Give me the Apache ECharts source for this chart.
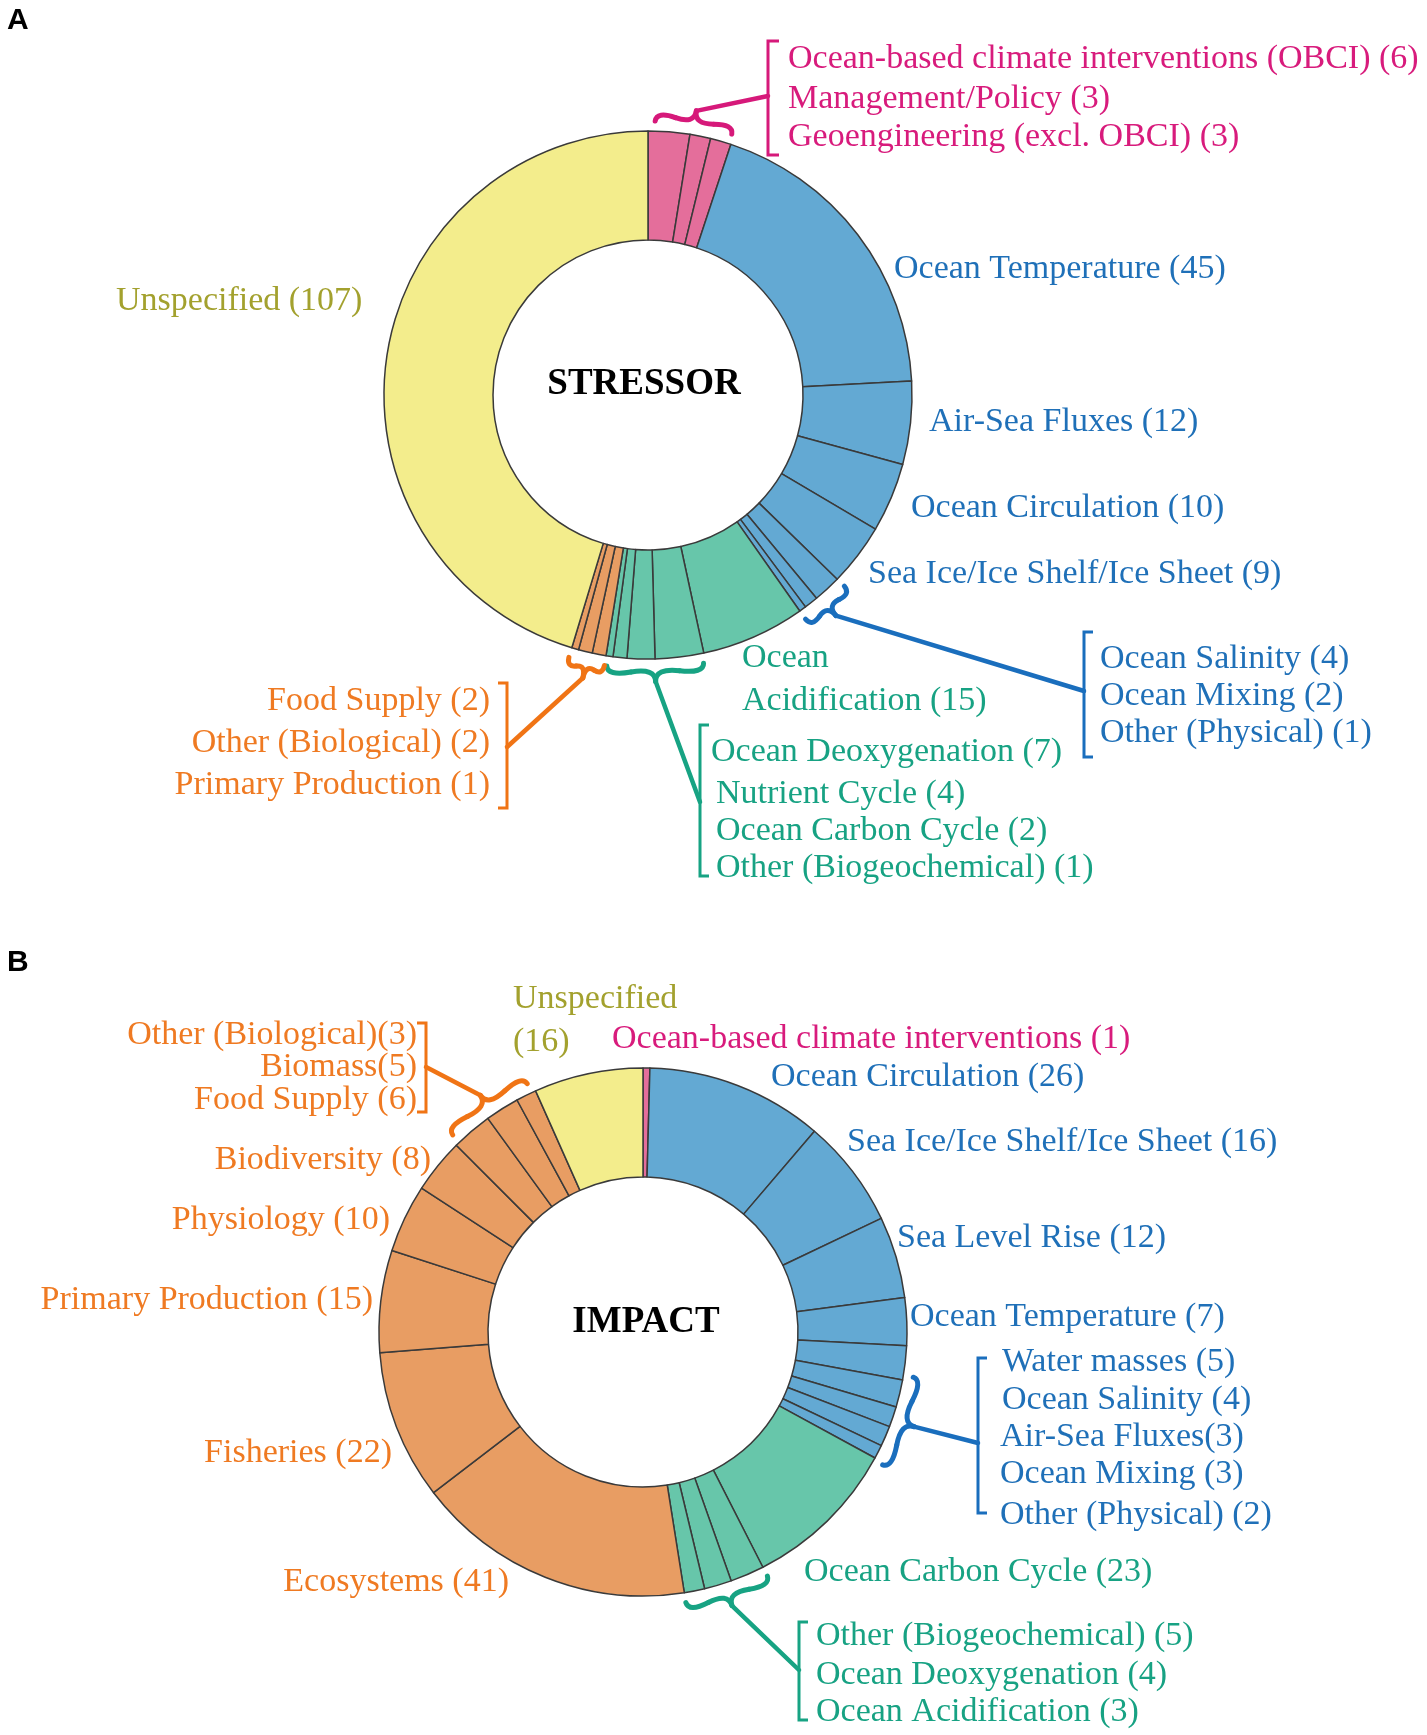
<!DOCTYPE html>
<html><head><meta charset="utf-8">
<script src="https://cdn.jsdelivr.net/npm/echarts/dist/echarts.min.js"></script>
<style>html,body{margin:0;padding:0;background:#fff}#chart{width:1427px;height:1735px}</style>
</head><body><div id="chart"></div>
<script>
// ---------- DATA ----------
const stressorNames = ['Ocean-based climate interventions (OBCI)','Management/Policy','Geoengineering (excl. OBCI)',
  'Ocean Temperature','Air-Sea Fluxes','Ocean Circulation','Sea Ice/Ice Shelf/Ice Sheet','Ocean Salinity','Ocean Mixing','Other (Physical)',
  'Ocean Acidification','Ocean Deoxygenation','Nutrient Cycle','Ocean Carbon Cycle','Other (Biogeochemical)',
  'Food Supply','Other (Biological)','Primary Production','Unspecified'];
const stressorValues = [6,3,3,45,12,10,9,4,2,1,15,7,4,2,1,2,2,1,107];
const stressorGroups = ['obci','obci','obci','phys','phys','phys','phys','phys','phys','phys','bgc','bgc','bgc','bgc','bgc','bio','bio','bio','unsp'];

const impactNames = ['Ocean-based climate interventions','Ocean Circulation','Sea Ice/Ice Shelf/Ice Sheet','Sea Level Rise','Ocean Temperature',
  'Water masses','Ocean Salinity','Air-Sea Fluxes','Ocean Mixing','Other (Physical)',
  'Ocean Carbon Cycle','Other (Biogeochemical)','Ocean Deoxygenation','Ocean Acidification',
  'Ecosystems','Fisheries','Primary Production','Physiology','Biodiversity','Food Supply','Biomass','Other (Biological)','Unspecified'];
const impactValues = [1,26,16,12,7,5,4,3,3,2,23,5,4,3,41,22,15,10,8,6,5,3,16];
const impactGroups = ['obci','phys','phys','phys','phys','phys','phys','phys','phys','phys','bgc','bgc','bgc','bgc','bio','bio','bio','bio','bio','bio','bio','bio','unsp'];

const centerTitles = ['STRESSOR','IMPACT'];
const panelLetters = ['A','B'];

// ---------- STYLE / LAYOUT ----------
const sliceColor = {obci:'#E46E9B', phys:'#63A9D3', bgc:'#67C6AA', bio:'#E89D63', unsp:'#F3ED8C'};
const textColor  = {obci:'#D81B7C', phys:'#1F70B8', bgc:'#17A283', bio:'#EF7A22', unsp:'#A3A12E'};
const braceColor = {obci:'#D6197A', phys:'#1A6EBD', bgc:'#17A383', bio:'#F07415'};
const FONT = '34px "Liberation Serif", "Times New Roman", serif';
const R_IN = 155, R_OUT = 264;
const CA = [648, 395], CB = [643, 1332];
const DY = 2;

// label anchor positions (x, y, align)
const layoutA = [
  [788,57,'left'],[788,97,'left'],[788,135,'left'],
  [894,267,'left'],[929,420,'left'],[911,506,'left'],[868,572,'left'],[1100,657,'left'],[1100,694,'left'],[1100,731,'left'],
  [742,678,'left','wrap'],[711,750,'left'],[716,792,'left'],[716,829,'left'],[716,866,'left'],
  [490,699,'right'],[490,741,'right'],[490,783,'right'],
  [116,299,'left']
];
const layoutB = [
  [612,1037,'left'],[771,1075,'left'],[847,1140,'left'],[897,1236,'left'],[910,1315,'left'],
  [1002,1360,'left'],[1002,1398,'left'],[1000,1435,'left','tight'],[1000,1472,'left'],[1000,1513,'left'],
  [804,1570,'left'],[816,1634,'left'],[816,1673,'left'],[816,1710,'left'],
  [509,1580,'right'],[392,1451,'right'],[373,1298,'right'],[390,1218,'right'],[431,1158,'right'],
  [417,1098,'right'],[417,1065,'right','tight'],[417,1033,'right','tight'],
  [513,1019,'left','wrap']
];
const bracesA = [
  {from:0,to:2,pad:[1.5,-0.5],target:[768,96],br:{x:768,y1:41,y2:155,t:11}},
  {from:7,to:9,pad:[0,0],target:[1084,691],br:{x:1084,y1:632,y2:757,t:9}},
  {from:11,to:14,pad:[0.5,-0.5],target:[700,802],br:{x:700,y1:725,y2:876,t:9}},
  {from:15,to:17,pad:[0,0],target:[507,747],br:{x:507,y1:683,y2:808,t:-9}}
];
const bracesB = [
  {from:5,to:9,pad:[6.5,0.5],target:[978,1443],br:{x:978,y1:1358,y2:1513,t:9}},
  {from:11,to:13,pad:[0,0],target:[799,1670],br:{x:799,y1:1622,y2:1720,t:9}},
  {from:19,to:21,pad:[1,-1],target:[426,1067],br:{x:426,y1:1023,y2:1112,t:-9}}
];
const titleOffset = [[-4,-11],[3,-10]];

function labelText(name, value, flag){
  if (flag === 'tight') return name + '(' + value + ')';
  if (flag === 'wrap') {
    const k = name.indexOf(' ');
    if (k < 0) return name + '\n(' + value + ')';
    return name.slice(0,k) + '\n' + name.slice(k+1) + ' (' + value + ')';
  }
  return name + ' (' + value + ')';
}

function pieSeries(names, values, groups, center){
  return {
    type:'pie', center:center, radius:[R_IN, R_OUT], startAngle:90, clockwise:true,
    silent:true, animation:false, label:{show:false}, labelLine:{show:false},
    itemStyle:{borderColor:'#3a3a3a', borderWidth:1.5},
    emphasis:{disabled:true},
    data: names.map((n,i)=>({name:n, value:values[i], itemStyle:{color:sliceColor[groups[i]]}}))
  };
}

function polar(c, r, a){ const t = a*Math.PI/180; return [c[0] + r*Math.sin(t), c[1] - r*Math.cos(t)]; }

function braceSegs(x1,y1,x2,y2,w,q){
  let dx=x1-x2, dy=y1-y2; const len=Math.hypot(dx,dy); dx/=len; dy/=len;
  const qx1=x1+q*w*dy, qy1=y1-q*w*dx;
  const qx2=(x1-.25*len*dx)+(1-q)*w*dy, qy2=(y1-.25*len*dy)-(1-q)*w*dx;
  const tx=(x1-.5*len*dx)+w*dy, ty=(y1-.5*len*dy)-w*dx;
  const qx3=x2+q*w*dy, qy3=y2-q*w*dx;
  const qx4=(x1-.75*len*dx)+(1-q)*w*dy, qy4=(y1-.75*len*dy)-(1-q)*w*dx;
  const c1x=2*qx2-qx1, c1y=2*qy2-qy1, c2x=2*qx4-qx3, c2y=2*qy4-qy3;
  return {segs:[
    [x1,y1,qx1,qy1,qx2,qy2],
    [qx2,qy2,c1x,c1y,tx,ty],
    [x2,y2,qx3,qy3,qx4,qy4],
    [qx4,qy4,c2x,c2y,tx,ty]
  ], tip:[tx,ty]};
}

function buildGraphics(names, values, groups, layout, braces, c, title, tOff, letter, letterY){
  const g = [];
  const total = values.reduce((a,b)=>a+b,0);
  const cum = [0]; values.forEach(v=>cum.push(cum[cum.length-1]+v));
  names.forEach((n,i)=>{
    const L = layout[i];
    g.push({type:'text', x:L[0], y:L[1]+DY, silent:true, z:10,
      style:{text:labelText(n, values[i], L[3]), font:FONT, fill:textColor[groups[i]],
        align:L[2], verticalAlign:'middle', textAlign:L[2], textVerticalAlign:'middle', lineHeight:43}});
  });
  braces.forEach(b=>{
    const col = braceColor[groups[b.from]];
    const a1 = cum[b.from]/total*360 + b.pad[0], a2 = cum[b.to+1]/total*360 + b.pad[1];
    const rr = R_OUT + 10;
    let p1 = polar(c, rr, a1), p2 = polar(c, rr, a2);
    const mx=(p1[0]+p2[0])/2, my=(p1[1]+p2[1])/2;
    const dx=p1[0]-p2[0], dy=p1[1]-p2[1];
    if ((dy*(mx-c[0]) - dx*(my-c[1])) < 0) { const t=p1; p1=p2; p2=t; }
    const bs = braceSegs(p1[0],p1[1],p2[0],p2[1],17,0.6);
    bs.segs.forEach(s=>{
      g.push({type:'bezierCurve', silent:true, z:10,
        shape:{x1:s[0],y1:s[1],cpx1:s[2],cpy1:s[3],x2:s[4],y2:s[5]},
        style:{stroke:col, lineWidth:5, fill:null, lineCap:'round'}});
    });
    g.push({type:'line', silent:true, z:10, shape:{x1:bs.tip[0], y1:bs.tip[1], x2:b.target[0], y2:b.target[1]}, style:{stroke:col, lineWidth:4.5, lineCap:'round'}});
    const br = b.br;
    g.push({type:'polyline', silent:true, z:10, shape:{points:[[br.x+br.t,br.y1],[br.x,br.y1],[br.x,br.y2],[br.x+br.t,br.y2]]},
      style:{stroke:col, lineWidth:3, fill:null}});
  });
  g.push({type:'text', x:c[0]+tOff[0], y:c[1]+tOff[1], silent:true, z:10,
    style:{text:title, font:'bold 37px "Liberation Serif", "Times New Roman", serif', fill:'#000',
      align:'center', verticalAlign:'middle', textAlign:'center', textVerticalAlign:'middle'}});
  g.push({type:'text', x:7, y:letterY, silent:true, z:10,
    style:{text:letter, font:'bold 30px "Liberation Sans", Arial, sans-serif', fill:'#000',
      align:'left', verticalAlign:'middle', textAlign:'left', textVerticalAlign:'middle'}});
  return g;
}

const chart = echarts.init(document.getElementById('chart'), null, {renderer:'canvas'});
chart.setOption({
  backgroundColor:'#ffffff',
  animation:false,
  series:[
    pieSeries(stressorNames, stressorValues, stressorGroups, CA),
    pieSeries(impactNames, impactValues, impactGroups, CB)
  ],
  graphic:[
    ...buildGraphics(stressorNames, stressorValues, stressorGroups, layoutA, bracesA, CA, centerTitles[0], titleOffset[0], panelLetters[0], 21),
    ...buildGraphics(impactNames, impactValues, impactGroups, layoutB, bracesB, CB, centerTitles[1], titleOffset[1], panelLetters[1], 963)
  ]
});
</script>
</body></html>
